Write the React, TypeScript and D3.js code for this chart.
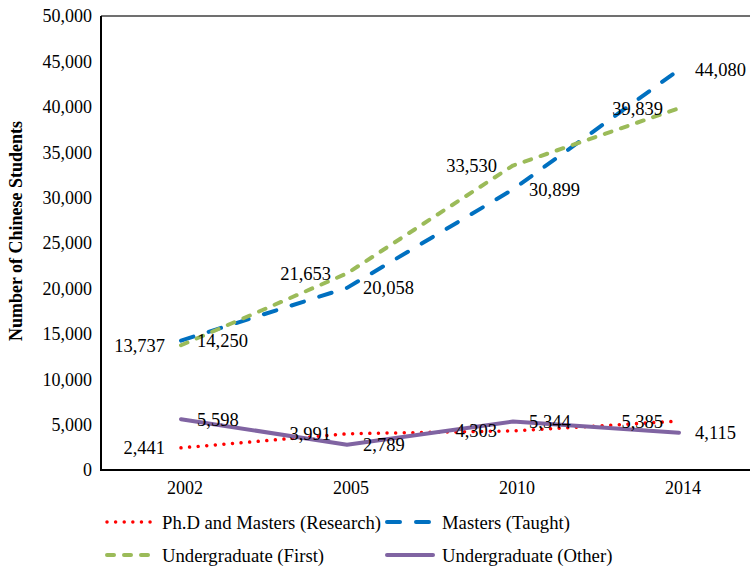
import React from "react";
import * as d3 from "d3";

const years = ["2002", "2005", "2010", "2014"];
const research = [2441, 3991, 4303, 5385];
const taught = [14250, 20058, 30899, 44080];
const ugFirst = [13737, 21653, 33530, 39839];
const ugOther = [5598, 2789, 5344, 4115];
const yTicks = [0, 5000, 10000, 15000, 20000, 25000, 30000, 35000, 40000, 45000, 50000];

interface SeriesDef {
    name: string;
    values: number[];
    color: string;
    width: number;
    dash?: string;
    cap: "round" | "butt";
    labelSide: "left" | "right";
}

const series: SeriesDef[] = [
    { name: "Ph.D and Masters (Research)", values: research, color: "#FF0000", width: 3.5, dash: "0.01 8.6", cap: "round", labelSide: "left" },
    { name: "Masters (Taught)", values: taught, color: "#0070C0", width: 4, dash: "13 16", cap: "round", labelSide: "right" },
    { name: "Undergraduate (First)", values: ugFirst, color: "#9BBB59", width: 4, dash: "7 10", cap: "round", labelSide: "left" },
    { name: "Undergraduate (Other)", values: ugOther, color: "#8064A2", width: 4, cap: "round", labelSide: "right" },
];

const W = 750;
const H = 566;
const font = '"Liberation Serif", "DejaVu Serif", serif';
const fmt = d3.format(",");

export default function App() {
    const plot = { left: 98, right: 762, top: 16, bottom: 470 };

    const x = d3.scaleBand<string>().domain(years).range([plot.left, plot.right]);
    const y = d3.scaleLinear().domain([0, 50000]).range([plot.bottom, plot.top]);
    const cx = (yr: string) => x(yr)! + x.bandwidth() / 2;

    const line = d3.line<number>()
        .x((d, i) => cx(years[i]))
        .y((d) => y(d));

    const labelGap = 16;

    return <svg width={W} height={H} style={{ position: "absolute", left: 0, top: 0, background: "white", fontFamily: font }}>
        {/* frame */}
        <line x1={101} x2={W} y1={plot.top} y2={plot.top} stroke="#404040" strokeWidth={1.5} />
        <line x1={101} x2={101} y1={plot.top} y2={plot.bottom} stroke="#000" strokeWidth={2} />
        <line x1={100} x2={W} y1={plot.bottom} y2={plot.bottom} stroke="#000" strokeWidth={2.2} />

        {/* y tick labels */}
        {yTicks.map((t) => (
            <text key={t} x={92} y={y(t)} dy="0.35em" textAnchor="end" fontSize={18}>{fmt(t)}</text>
        ))}
        {/* x labels */}
        {years.map((yr) => (
            <text key={yr} x={cx(yr) + 4} y={plot.bottom + 24} textAnchor="middle" fontSize={18}>{yr}</text>
        ))}

        <text transform={`translate(22,${231}) rotate(-90)`} textAnchor="middle" fontSize={18} fontWeight="bold">
            Number of Chinese Students
        </text>

        {/* series */}
        {series.map((s) => (
            <path key={s.name} d={line(s.values)!} fill="none" stroke={s.color} strokeWidth={s.width}
                strokeDasharray={s.dash} strokeLinecap={s.cap} strokeLinejoin="round" />
        ))}

        {/* data labels */}
        {series.map((s) => s.values.map((v, i) => (
            <text key={s.name + i}
                x={cx(years[i]) + (s.labelSide === "left" ? -labelGap : labelGap)}
                y={y(v)} dy="0.35em" fontSize={18.5}
                textAnchor={s.labelSide === "left" ? "end" : "start"}>{fmt(v)}</text>
        )))}

        {/* legend */}
        {series.map((s, i) => {
            const lx = i % 2 === 0 ? 107 : 387;
            const ly = i < 2 ? 522 : 555;
            return <g key={s.name}>
                <line x1={lx} x2={lx + 46} y1={ly} y2={ly} stroke={s.color} strokeWidth={s.width}
                    strokeDasharray={s.dash} strokeLinecap={s.cap} />
                <text x={lx + 55} y={ly} dy="0.35em" fontSize={18.7}>{s.name}</text>
            </g>;
        })}
    </svg>;
}
